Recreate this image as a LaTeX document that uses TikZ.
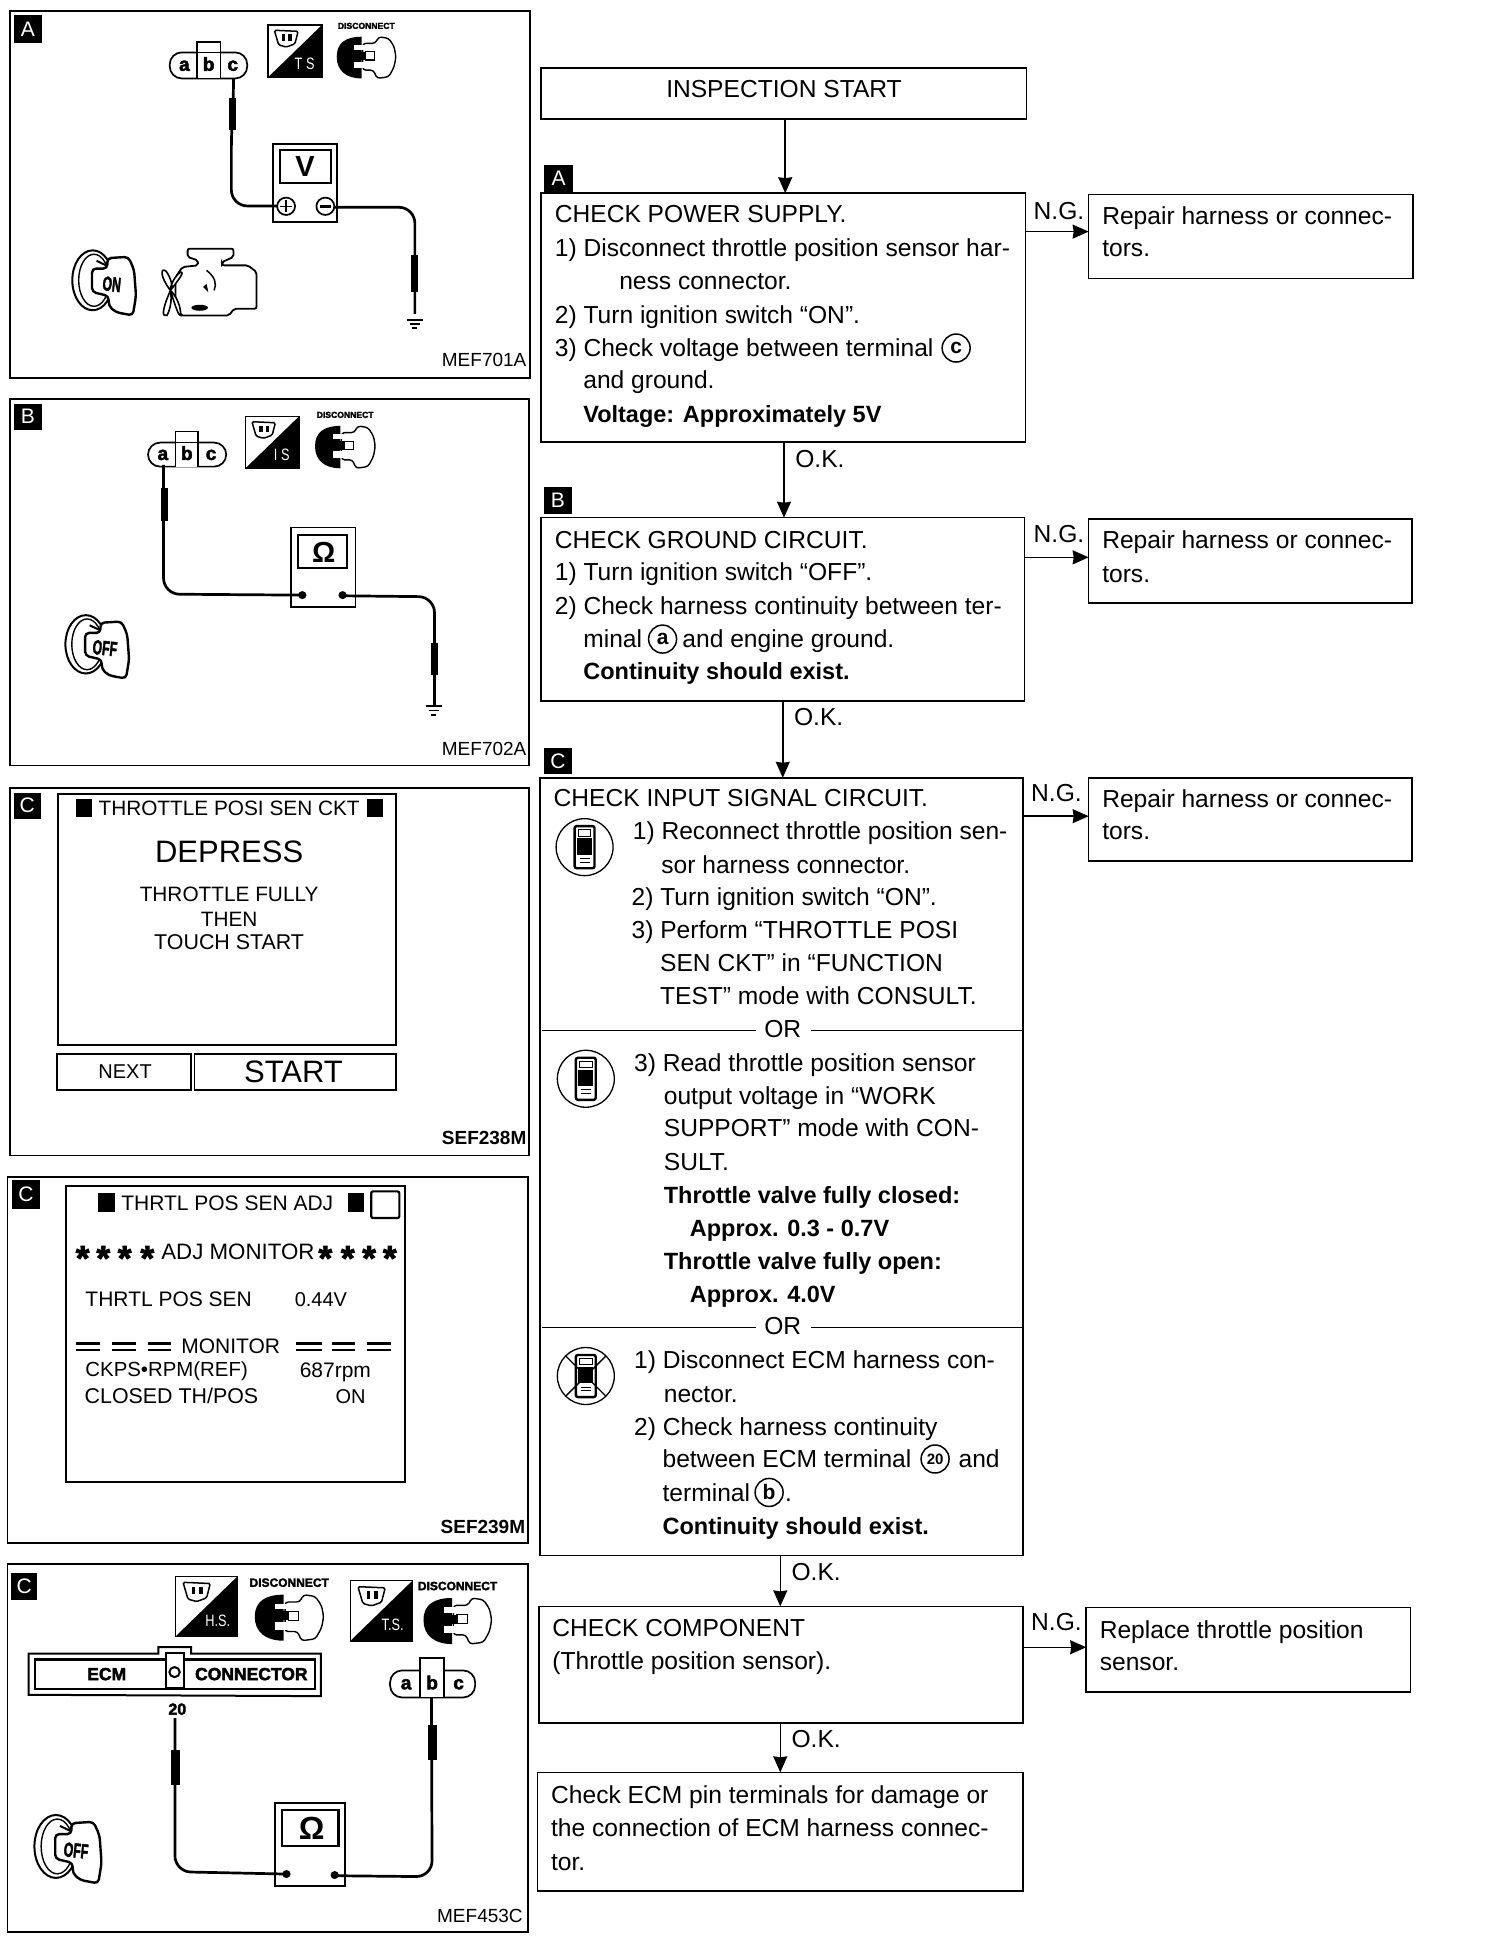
\documentclass[tikz,border=0pt]{standalone}
\usepackage{fontspec}
\setmainfont{Liberation Sans}
\newfontfamily\fatfont[FakeBold=2.5]{Liberation Sans Bold}
\usetikzlibrary{arrows.meta}
\newcounter{tn}
\newcommand\flowfont{\fontsize{24.6}{26}\selectfont}
\newcommand\flowbold{\bfseries\fontsize{23.5}{26}\selectfont}
\newcommand\gtxt[4][]{\stepcounter{tn}\node[txt,#1] (t\arabic{tn}) at (#2,#3) {#4};}
% flow text line: x, vertical centre, text
\newcommand\fl[4][]{\stepcounter{tn}\node[txt,font=\flowfont,anchor=base west,#1] (t\arabic{tn}) at (#2,{#3+7}) {#4};}
\newcommand\flowbox[5]{\node[flowbox,minimum width={(#4-#2)*1.2389pt},minimum height={(#5-#3)*1.2389pt}] (#1) at ({(#2+#4)/2},{(#3+#5)/2}) {};}
\newcommand\lab[6]{\node[labbox,minimum width={(#4-#2)*1.2389pt},minimum height={(#5-#3)*1.2389pt}] (#1) at ({(#2+#4)/2},{(#3+#5)/2}) {#6};}
\newcommand\panel[4]{\draw[panelline] (#1,#2) rectangle (#3,#4);}
% test-mode icon: x y size label
\newcommand\tsicon[4]{\begin{scope}[shift={(#1,#2)},xscale=#3/100,yscale=#3/100]
\draw[line width=1.6pt] (0,0) rectangle (100,100);
\fill (0,100) -- (100,0) -- (100,100) -- cycle;
\draw[line width=1.5pt,rounded corners=1.5pt] (12,10) -- (56,12) -- (50,36) -- (34,42) -- (20,38) -- cycle;
\fill (26,18) rectangle (32,30);
\fill (38,18) rectangle (44,30);
\gtxt[text=white,font=\fontsize{15}{15}\selectfont]{68}{74}{\scalebox{.85}[1.1]{#4}}
\end{scope}}
% disconnect icon: x y width height fontsize
\newcommand\discicon[5]{\begin{scope}[shift={(#1,#2)},xscale=#3/100,yscale=#4/100]
\fill (42,0) .. controls (15,0) and (0,15) .. (0,48) .. controls (0,80) and (15,100) .. (42,100) -- cycle;
\draw[line width=1.4pt,fill=white,rounded corners=3pt] (44,16) -- (65,16) -- (71,0) -- (88,4) -- (97,24) -- (100,48) -- (97,72) -- (88,96) -- (68,100) -- (62,80) -- (44,80) -- cycle;
\fill[white] (30,20) rectangle (48,32);
\fill[white] (30,60) rectangle (48,76);
\fill (30,36) rectangle (50,56);
\draw[line width=1.2pt] (48,36) -- (64,36) -- (64,56) -- (48,56);
\gtxt[font=\fatfont\fontsize{#5}{9}\selectfont]{50}{-26}{DISCONNECT}
\end{scope}}
% ignition key: x y w h text
\newcommand\keyicon[5]{\begin{scope}[shift={(#1,#2)},xscale=#3/100,yscale=#4/100]
\draw[line width=2pt] (32,46) ellipse [x radius=32,y radius=46];
\draw[line width=1.4pt] (34,46) ellipse [x radius=24,y radius=40];
\draw[line width=2.4pt,fill=white,rounded corners=4pt] (55,12) -- (88,10) -- (97,30) -- (100,70) -- (95,100) -- (68,95) -- (57,85) -- (57,70) -- (31,64) -- (31,28) -- (55,28) -- cycle;
\draw[line width=2pt] (38,16) -- (55,24);
\gtxt[font=\fatfont\fontsize{17}{17}\selectfont,rotate=-6]{62}{52}{\scalebox{.72}[1.2]{#5}}
\end{scope}}
% pill connector with a b c
\newcommand\abc[7]{\draw[line width=1.7pt,rounded corners=12pt] (#1,#2) rectangle (#3,#4);
\draw[line width=1.7pt,fill=white] (#5,#4) -- (#5,#7) -- (#6,#7) -- (#6,#4);
\fill[white] ({#5+3},#2) -- ({#6-3},#2) -- ({#6-3},{#4-3}) -- ({#5+3},{#4-3}) -- cycle;
\gtxt[anchor=base,font=\fatfont\fontsize{19}{20}\selectfont]{{(#1+#5)/2+3}}{{(#2+#4)/2+16}}{a}
\gtxt[anchor=base,font=\fatfont\fontsize{19}{20}\selectfont]{{(#5+#6)/2}}{{(#2+#4)/2+16}}{b}
\gtxt[anchor=base,font=\fatfont\fontsize{19}{20}\selectfont]{{(#6+#3)/2-3}}{{(#2+#4)/2+16}}{c}}
\newcommand\ground[2]{\draw[line width=1.5pt] ({#1-24},#2) -- ({#1+24},#2);
\draw[line width=1.5pt] ({#1-15},{#2+13}) -- ({#1+15},{#2+13});
\draw[line width=2pt] ({#1-7},{#2+26}) -- ({#1+7},{#2+26});}
% consult icon
\newcommand\consulticon[2]{\draw[line width=1.3pt] (#1,#2) circle [radius=23];
\begin{scope}[shift={(#1,#2)}]
\draw[line width=2.4pt,rounded corners=2pt] (-8,-17) rectangle (8,17);
\draw[line width=.8pt] (-5,-14) rectangle (5,-9);
\fill (-6,-7) rectangle (6,6);
\draw[line width=1pt] (-4,9) -- (4,9) (-4,12) -- (4,12);
\end{scope}}
\tikzset{
  txt/.style={inner sep=0pt,outer sep=0pt,font=\fontsize{18}{20}\selectfont},
  flowbox/.style={draw,line width=1.5pt,inner sep=0pt,outer sep=0pt},
  labbox/.style={fill=black,text=white,inner sep=0pt,outer sep=0pt,font=\fontsize{21}{21}\selectfont},
  circ/.style={draw,circle,line width=1.5pt,inner sep=0pt,outer sep=0pt,minimum size=28pt,font=\bfseries\fontsize{21}{21}\selectfont},
  panelline/.style={line width=1.8pt},
  flowline/.style={line width=1.5pt},
  flowarrow/.style={line width=1.5pt,-{Stealth[length=16pt,width=14pt,inset=1pt]}},
  wire/.style={line width=2.7pt,rounded corners=16pt},
  probe/.style={line width=7pt},
  fatprobe/.style={line width=9pt},
  refcode/.style={txt,anchor=east,font=\fontsize{19}{20}\selectfont},
  oknode/.style={txt,font=\flowfont},
  panela/.style={x=.3444pt,y=-.3339pt}
}
\begin{document}
\begin{tikzpicture}[x=1.2389pt,y=-1.2389pt]
\fill[white] (0,0) rectangle (1214,1568);
\useasboundingbox (0,0) rectangle (1214,1568);

%% ---------- left panels
\panel{8}{9}{428}{305}
\panel{8}{322}{427}{618}
\panel{8}{636}{427}{933}
\panel{6}{950}{426}{1246}
\panel{6}{1263}{426}{1560}
\lab{pa}{11}{12}{34}{35}{A}
\lab{pb}{11}{326}{34}{347}{B}
\lab{pc}{11}{640}{33}{661}{C}
\lab{pd}{10}{953}{32}{976}{C}
\lab{pe}{9}{1270}{30}{1292}{C}

% Panel A
\begin{scope}[panela]
\abc{493}{157}{718}{235}{572}{640}{125}
\draw[line width=1.7pt] (572,157) -- (640,157);
\tsicon{778}{75}{157}{T S}
\discicon{978}{110}{172}{125}{8.6}
\draw[line width=2pt] (793,432) rectangle (980,665);
\draw[line width=2pt] (813,450) rectangle (960,548);
\gtxt[font=\bfseries\fontsize{29}{29}\selectfont]{886}{500}{V}
\draw[line width=1.7pt] (831,618) circle [radius=26];
\draw[line width=1.7pt] (945,618) circle [radius=26];
\draw[line width=2.6pt] (930,618) -- (960,618);
\draw[line width=1.5pt] (831,600) -- (831,636) (813,618) -- (849,618);
\draw[wire] (678,235) -- (678,300) -- (672,400) -- (672,617) -- (805,617);
\draw[probe] (675,295) -- (675,390);
\draw[wire] (971,621) -- (1205,621) -- (1205,940);
\draw[probe] (1205,765) -- (1205,875);
\ground{1205}{958}
\keyicon{210}{750}{185}{195}{ON}
\draw[line width=1.8pt,rounded corners=2pt] (545,745) -- (678,745) -- (678,770) -- (645,785) -- (645,795) -- (720,795) -- (745,815) -- (745,925) -- (680,925) -- (665,945) -- (525,945) -- (510,900) -- (510,830) -- (530,800) -- (575,795) -- (575,780) -- (545,770) -- cycle;
\draw[line width=1.6pt,fill=white] (495,870) .. controls (465,830) and (465,800) .. (482,812) .. controls (495,830) and (505,860) .. (495,870) .. controls (525,830) and (535,815) .. (525,815) .. controls (510,825) and (495,850) .. (495,870) .. controls (470,930) and (470,950) .. (485,945) .. controls (495,925) and (500,900) .. (495,870) .. controls (510,920) and (520,950) .. (525,945) .. controls (525,920) and (515,890) .. (495,870);
\draw[line width=1.5pt] (600,810) .. controls (625,830) and (630,850) .. (622,870);
\fill (600,850) -- (590,860) -- (605,875) -- cycle;
\fill (580,922) ellipse [x radius=24,y radius=9];
\end{scope}
\gtxt[refcode]{425}{291}{MEF701A}

% Panel B
\begin{scope}[shift={(0,318.8)},panela]
\abc{430}{143}{657}{215}{510}{575}{110}
\draw[line width=1.7pt] (510,143) -- (575,143);
\tsicon{713}{65}{155}{I S}
\discicon{915}{93}{175}{127}{8.6}
\draw[line width=1.6pt] (845,397) rectangle (1032,635);
\draw[line width=2pt] (865,420) rectangle (1008,520);
\gtxt[font=\bfseries\fontsize{29}{29}\selectfont]{940}{472}{Ω}
\fill (878,600) circle [radius=12];
\fill (995,600) circle [radius=12];
\draw[wire] (475,210) -- (475,597) -- (878,600);
\draw[probe] (478,280) -- (478,378);
\draw[wire] (995,602) -- (1262,605) -- (1262,930);
\draw[probe] (1262,742) -- (1262,840);
\ground{1260}{932}
\keyicon{190}{660}{185}{190}{OFF}
\end{scope}
\gtxt[refcode]{425}{605}{MEF702A}

% Panel C1
\draw[line width=1.8pt] (47,641) rectangle (320,844);
\fill (61,645) rectangle (74,660);
\fill (296,645) rectangle (309,660);
\gtxt[font=\fontsize{20.8}{21}\selectfont]{185}{653}{THROTTLE POSI SEN CKT}
\gtxt[font=\fontsize{31}{32}\selectfont]{185}{688}{DEPRESS}
\gtxt[font=\fontsize{20.8}{21}\selectfont]{185}{722}{THROTTLE FULLY}
\gtxt[font=\fontsize{20.8}{21}\selectfont]{185}{742}{THEN}
\gtxt[font=\fontsize{21.4}{22}\selectfont]{185}{761}{TOUCH START}
\draw[line width=1.8pt] (46,851) rectangle (154,880);
\draw[line width=1.8pt] (157,851) rectangle (320,880);
\gtxt[font=\fontsize{20}{20}\selectfont]{101}{865}{NEXT}
\gtxt[font=\fontsize{31}{32}\selectfont]{237}{865}{START}
\gtxt[refcode,font=\bfseries\fontsize{19}{20}\selectfont]{425}{919}{SEF238M}

% Panel C2
\begin{scope}[shift={(0,944.4)},panela]
\draw[line width=2pt] (193,48) rectangle (1175,935);
\fill (285,70) rectangle (335,128);
\fill (1012,70) rectangle (1058,128);
\draw[line width=2.2pt,rounded corners=2pt] (1078,65) rectangle (1160,145);
\gtxt[font=\fontsize{21}{21}\selectfont]{660}{100}{THRTL POS SEN ADJ}
\gtxt[font=\fontsize{22.3}{22}\selectfont]{691}{245}{ADJ MONITOR}
\foreach \sx in {240,300,362,428,945,1010,1072,1132}{
  \gtxt[anchor=center,font=\fatfont\fontsize{35}{35}\selectfont,yshift=-5pt]{\sx}{250}{*}
}
\gtxt[font=\fontsize{21}{21}\selectfont]{490}{388}{THRTL POS SEN}
\gtxt[font=\fontsize{20}{20}\selectfont]{932}{390}{0.44V}
\gtxt[font=\fontsize{21}{21}\selectfont]{670}{530}{MONITOR}
\foreach \qa/\qb in {220/290,325/395,430/497,860/935,965/1030,1065/1135}{
  \draw[line width=2.2pt] (\qa,521) -- (\qb,521) (\qa,541) -- (\qb,541);
}
\gtxt[font=\fontsize{20.4}{21}\selectfont]{484}{605}{CKPS•RPM(REF)}
\gtxt[font=\fontsize{21}{21}\selectfont]{974}{607}{687rpm}
\gtxt[font=\fontsize{21.4}{21}\selectfont]{498}{677}{CLOSED TH/POS}
\gtxt[font=\fontsize{20}{20}\selectfont]{1018}{680}{ON}
\end{scope}
\gtxt[refcode,font=\bfseries\fontsize{19}{20}\selectfont]{424}{1233}{SEF239M}

% Panel C3
\begin{scope}[shift={(0,1255.2)},panela]
\tsicon{510}{65}{180}{H.S.}
\discicon{740}{120}{200}{138}{12}
\tsicon{1018}{78}{180}{T.S.}
\discicon{1230}{130}{198}{138}{12}
\draw[line width=2pt] (83,297) -- (460,297) -- (460,277) -- (555,277) -- (555,297) -- (932,297) -- (932,424) -- (83,420) -- cycle;
\draw[line width=2.6pt] (102,315) rectangle (915,403);
\draw[line width=2pt,fill=white] (482,295) rectangle (535,400);
\draw[line width=2pt] (507,352) circle [radius=15];
\gtxt[font=\fatfont\fontsize{17.5}{18}\selectfont]{310}{358}{ECM}
\gtxt[font=\fatfont\fontsize{17.5}{18}\selectfont]{730}{358}{CONNECTOR}
\gtxt[font=\fatfont\fontsize{16}{16}\selectfont]{515}{463}{20}
\abc{1133}{347}{1380}{428}{1220}{1290}{310}
\draw[line width=2pt] (798,743) rectangle (1003,993);
\draw[line width=2.2pt] (820,765) rectangle (983,873);
\gtxt[font=\bfseries\fontsize{32}{32}\selectfont]{905}{820}{Ω}
\fill (832,957) circle [radius=12];
\fill (972,960) circle [radius=12];
\draw[wire] (508,490) -- (508,950) -- (832,957);
\draw[fatprobe] (511,585) -- (511,690);
\draw[wire] (1253,428) -- (1255,965) -- (972,962);
\draw[fatprobe] (1255,510) -- (1255,615);
\keyicon{100}{780}{195}{205}{OFF}
\end{scope}
\gtxt[refcode]{422}{1547}{MEF453C}

%% ---------- flow chart boxes
\flowbox{start}{437}{55}{829}{96}
\flowbox{boxA}{437}{156}{828}{357}
\flowbox{repA}{879}{157}{1141}{225}
\flowbox{boxB}{437}{418}{827}{566}
\flowbox{repB}{879}{419}{1140}{487}
\flowbox{boxC}{436}{628}{826}{1256}
\flowbox{repC}{879}{628}{1140}{695}
\flowbox{boxD}{435}{1297}{826}{1391}
\flowbox{repD}{877}{1298}{1139}{1366}
\flowbox{boxE}{434}{1431}{826}{1527}
\lab{la}{439}{133}{463}{155}{A}
\lab{lb}{439}{393}{462}{415}{B}
\lab{lc}{439}{604}{462}{625}{C}

\gtxt[font=\flowfont]{633}{72}{INSPECTION START}

% connectors
\coordinate (dA) at (634,96);
\coordinate (dB) at (633,357);
\coordinate (dC) at (632,566);
\coordinate (dD) at (630,1256);
\coordinate (dE) at (630,1391);
\draw[flowarrow] (dA) -- (dA |- boxA.north);
\draw[flowarrow] (dB) -- (dB |- boxB.north);
\draw[flowarrow] (dC) -- (dC |- boxC.north);
\draw[flowarrow] (dD) -- (dD |- boxD.north);
\draw[flowarrow] (dE) -- (dE |- boxE.north);
\coordinate (nA) at (828,187);
\coordinate (nB) at (827,450);
\coordinate (nC) at (826,659);
\coordinate (nD) at (826,1330);
\draw[flowarrow] (nA) -- (nA -| repA.west);
\draw[flowarrow] (nB) -- (nB -| repB.west);
\draw[flowarrow] (nC) -- (nC -| repC.west);
\draw[flowarrow] (nD) -- (nD -| repD.west);
\gtxt[oknode]{855}{170}{N.G.}
\gtxt[oknode]{855}{431}{N.G.}
\gtxt[oknode]{853}{640}{N.G.}
\gtxt[oknode]{853}{1310}{N.G.}
\gtxt[oknode]{662}{371}{O.K.}
\gtxt[oknode]{661}{579}{O.K.}
\gtxt[oknode]{659}{1269}{O.K.}
\gtxt[oknode]{659}{1404}{O.K.}

% box A text
\fl{448}{173}{CHECK POWER SUPPLY.}
\fl{448}{200}{1) Disconnect throttle position sensor har-}
\fl{500}{227}{ness connector.}
\fl{448}{254}{2) Turn ignition switch “ON”.}
\fl{448}{281}{3) Check voltage between terminal}
\node[circ] (cc) at (772,281) {c};
\fl{471}{307}{and ground.}
\fl[font=\flowbold]{471}{334}{Voltage: Approximately 5V}
\fl{890}{174}{Repair harness or connec-}
\fl{890}{200}{tors.}

% box B text
\fl{448}{436}{CHECK GROUND CIRCUIT.}
\fl{448}{462}{1) Turn ignition switch “OFF”.}
\fl{448}{489}{2) Check harness continuity between ter-}
\fl{471}{516}{minal}
\node[circ] (ca) at (535,516) {a};
\fl{551}{516}{and engine ground.}
\fl[font=\flowbold]{471}{542}{Continuity should exist.}
\fl{890}{436}{Repair harness or connec-}
\fl{890}{463}{tors.}

% box C text
\fl{447}{644}{CHECK INPUT SIGNAL CIRCUIT.}
\fl{511}{671}{1) Reconnect throttle position sen-}
\fl{534}{698}{sor harness connector.}
\fl{510}{724}{2) Turn ignition switch “ON”.}
\fl{510}{751}{3) Perform “THROTTLE POSI}
\fl{533}{777}{SEN CKT” in “FUNCTION}
\fl{533}{804}{TEST” mode with CONSULT.}
\fl{890}{645}{Repair harness or connec-}
\fl{890}{671}{tors.}
\gtxt[font=\flowfont]{632}{831}{OR}
\coordinate (ora) at (438,832);
\coordinate (orb) at (438,1072);
\draw[flowline] (ora) -- (610,832) (655,832) -- (ora -| boxC.east);
\draw[flowline] (orb) -- (610,1072) (655,1072) -- (orb -| boxC.east);
\gtxt[font=\flowfont]{632}{1071}{OR}
\fl{512}{858}{3) Read throttle position sensor}
\fl{536}{885}{output voltage in “WORK}
\fl{536}{911}{SUPPORT” mode with CON-}
\fl{536}{938}{SULT.}
\fl[font=\flowbold]{536}{965}{Throttle valve fully closed:}
\fl[font=\flowbold]{557}{991}{Approx. 0.3 - 0.7V}
\fl[font=\flowbold]{536}{1018}{Throttle valve fully open:}
\fl[font=\flowbold]{557}{1045}{Approx. 4.0V}
\fl{512}{1098}{1) Disconnect ECM harness con-}
\fl{536}{1125}{nector.}
\fl{512}{1152}{2) Check harness continuity}
\fl{535}{1178}{between ECM terminal}
\node[circ,font=\bfseries\fontsize{15}{15}\selectfont] (c20) at (755,1178) {20};
\fl{774}{1178}{and}
\fl{535}{1205}{terminal}
\node[circ] (cb) at (621,1205) {b};
\fl{634}{1205}{.}
\fl[font=\flowbold]{535}{1232}{Continuity should exist.}

% consult icons
\consulticon{472}{684}
\consulticon{473}{871}
\consulticon{473}{1111}
\draw[line width=1.3pt] (457,1095) -- (489,1127) (489,1095) -- (457,1127);

% box D, E text
\fl{446}{1314}{CHECK COMPONENT}
\fl{446}{1341}{(Throttle position sensor).}
\fl{888}{1316}{Replace throttle position}
\fl{888}{1342}{sensor.}
\fl{445}{1449}{Check ECM pin terminals for damage or}
\fl{445}{1476}{the connection of ECM harness connec-}
\fl{445}{1503}{tor.}
\end{tikzpicture}
\end{document}
